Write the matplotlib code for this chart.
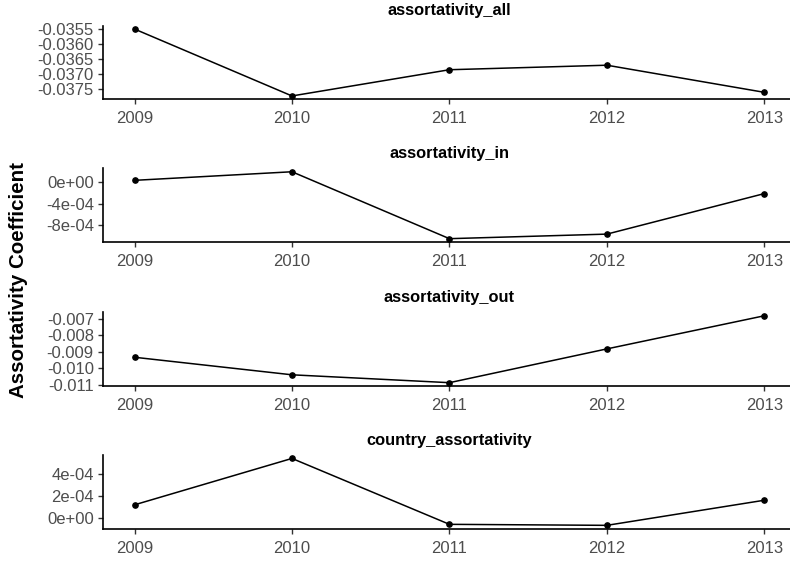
import matplotlib
matplotlib.use("Agg")
import matplotlib.pyplot as plt
from matplotlib.ticker import FixedLocator, FixedFormatter

plt.rcParams["font.family"] = ["Liberation Sans", "DejaVu Sans"]

years = [2009, 2010, 2011, 2012, 2013]

# metric values
assortativity_all = [-0.03551, -0.03773, -0.03686, -0.03671, -0.03761]
assortativity_in = [3.8e-5, 2.0e-4, -1.063e-3, -9.77e-4, -2.12e-4]
assortativity_out = [-0.00933, -0.01040, -0.01088, -0.00882, -0.00680]
country_assortativity = [1.21e-4, 5.35e-4, -5.3e-5, -6.2e-5, 1.62e-4]

panel_names = ["assortativity_all", "assortativity_in",
               "assortativity_out", "country_assortativity"]
panel_values = [assortativity_all, assortativity_in,
                assortativity_out, country_assortativity]

# y ticks and their labels, as printed in each panel
ytick_values = [
    [-0.0375, -0.0370, -0.0365, -0.0360, -0.0355],
    [-8e-4, -4e-4, 0.0],
    [-0.011, -0.010, -0.009, -0.008, -0.007],
    [0.0, 2e-4, 4e-4],
]
ytick_labels = [
    ["-0.0375", "-0.0370", "-0.0365", "-0.0360", "-0.0355"],
    ["-8e-04", "-4e-04", "0e+00"],
    ["-0.011", "-0.010", "-0.009", "-0.008", "-0.007"],
    ["0e+00", "2e-04", "4e-04"],
]
xtick_labels = ["2009", "2010", "2011", "2012", "2013"]

fig = plt.figure(figsize=(7.9, 5.61), dpi=100)

# panel positions (bottom, height) in figure fraction
bottoms = [0.823, 0.5686, 0.3119, 0.0576]
height = 0.1312
left = 0.1304
width = 0.877

for i in range(4):
    ax = fig.add_axes([left, bottoms[i], width, height])
    ax.plot(years, panel_values[i], color="black", lw=1.1,
            marker="o", ms=3.8, clip_on=False)
    ax.margins(x=0.05, y=0.05)
    ax.xaxis.set_major_locator(FixedLocator(years))
    ax.xaxis.set_major_formatter(FixedFormatter(xtick_labels))
    ax.yaxis.set_major_locator(FixedLocator(ytick_values[i]))
    ax.yaxis.set_major_formatter(FixedFormatter(ytick_labels[i]))
    for side in ["top", "right"]:
        ax.spines[side].set_visible(False)
    for side in ["left", "bottom"]:
        ax.spines[side].set_linewidth(1.2)
        ax.spines[side].set_color("black")
    ax.tick_params(axis="both", length=3.6, width=1.0, color="#333333",
                   labelsize=12, labelcolor="#4D4D4D")
    ax.tick_params(axis="x", pad=5)
    ax.tick_params(axis="y", pad=3)
    ax.set_title(panel_names[i], fontsize=11.8, fontweight="bold", pad=7.5)

fig.text(0.023, 0.5, "Assortativity Coefficient", rotation=90,
         ha="center", va="center", fontsize=14.8, fontweight="bold")

fig.savefig("out.png", dpi=100)
